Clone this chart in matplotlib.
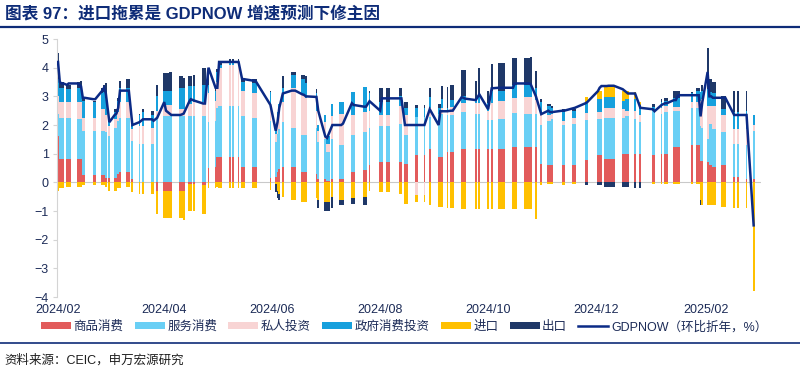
import matplotlib
matplotlib.use("Agg")
import matplotlib.pyplot as plt
import matplotlib.dates as mdates
from matplotlib.lines import Line2D
from matplotlib.patches import Patch
import numpy as np
import pandas as pd

plt.rcParams["font.family"] = ["Liberation Sans", "Noto Sans CJK SC", "DejaVu Sans"]

# ---------------------------------------------------------------------------
# Data: GDPNow contributions (pp) by update date
# ---------------------------------------------------------------------------
dates = [
    # 2024-02
    "2024-02-01", "2024-02-02", "2024-02-03", "2024-02-04", "2024-02-06", "2024-02-07",
    "2024-02-08", "2024-02-12", "2024-02-13", "2024-02-14", "2024-02-15", "2024-02-16",
    "2024-02-21", "2024-02-22", "2024-02-26", "2024-02-27", "2024-02-28",
    # 2024-03
    "2024-03-01", "2024-03-04", "2024-03-05", "2024-03-06", "2024-03-07", "2024-03-11",
    "2024-03-12", "2024-03-14", "2024-03-18", "2024-03-20", "2024-03-25", "2024-03-26",
    "2024-03-28",
    # 2024-04
    "2024-04-01", "2024-04-02", "2024-04-03", "2024-04-04", "2024-04-05", "2024-04-10",
    "2024-04-11", "2024-04-12", "2024-04-15", "2024-04-16", "2024-04-18", "2024-04-23",
    "2024-04-24", "2024-04-26", "2024-04-30",
    # 2024-05
    "2024-05-01", "2024-05-02", "2024-05-03", "2024-05-08", "2024-05-10", "2024-05-13",
    "2024-05-15", "2024-05-16", "2024-05-21", "2024-05-22", "2024-05-23", "2024-05-31",
    # 2024-06
    "2024-06-03", "2024-06-04", "2024-06-05", "2024-06-07", "2024-06-12", "2024-06-13",
    "2024-06-14", "2024-06-18", "2024-06-19", "2024-06-20", "2024-06-26", "2024-06-27",
    # 2024-07
    "2024-07-01", "2024-07-02", "2024-07-03", "2024-07-05", "2024-07-09", "2024-07-10",
    "2024-07-11", "2024-07-16", "2024-07-17", "2024-07-23", "2024-07-24", "2024-07-26",
    # 2024-08
    "2024-08-01", "2024-08-02", "2024-08-05", "2024-08-06", "2024-08-12", "2024-08-13",
    "2024-08-15", "2024-08-16", "2024-08-21", "2024-08-22", "2024-08-26", "2024-08-29",
    # 2024-09
    "2024-09-03", "2024-09-04", "2024-09-05", "2024-09-08", "2024-09-10", "2024-09-11",
    "2024-09-16", "2024-09-17", "2024-09-18", "2024-09-24", "2024-09-26",
    # 2024-10
    "2024-10-01", "2024-10-03", "2024-10-07", "2024-10-08", "2024-10-09", "2024-10-10",
    "2024-10-15", "2024-10-16", "2024-10-17", "2024-10-22", "2024-10-23", "2024-10-24",
    "2024-10-25", "2024-10-28", "2024-10-31",
    # 2024-11
    "2024-11-04", "2024-11-05", "2024-11-06", "2024-11-12", "2024-11-13", "2024-11-18",
    "2024-11-19", "2024-11-25", "2024-11-26",
    # 2024-12
    "2024-12-02", "2024-12-03", "2024-12-04", "2024-12-06", "2024-12-07", "2024-12-08",
    "2024-12-09", "2024-12-10", "2024-12-11", "2024-12-16", "2024-12-17", "2024-12-18",
    "2024-12-19", "2024-12-23", "2024-12-26",
    # 2025-01
    "2025-01-02", "2025-01-03", "2025-01-07", "2025-01-09", "2025-01-10", "2025-01-14",
    "2025-01-15", "2025-01-16", "2025-01-17", "2025-01-24", "2025-01-27", "2025-01-28",
    "2025-01-29", "2025-01-30",
    # 2025-02
    "2025-02-02", "2025-02-03", "2025-02-04", "2025-02-05", "2025-02-06", "2025-02-10",
    "2025-02-11", "2025-02-12", "2025-02-17", "2025-02-19", "2025-02-24", "2025-02-28",
]

goods = [
    1.60, 0.80, 0.80, 0.80, 0.80, 0.80, 0.80, 0.80, 0.80, 0.80, 0.25, 0.25, 0.25, 0.25, 0.25, 0.25, 0.15,
    0.15, 0.15, 0.15, 0.30, 0.35, 0.35, 0.35, 0.10, 0.00, 0.00, 0.00, 0.00, -0.30,
    -0.30, -0.30, -0.30, -0.30, -0.30, -0.30, -0.30, -0.30, -0.05, -0.05, -0.05, -0.10, -0.10, 0.50, 0.55,
    0.90, 0.90, 0.90, 0.90, 0.90, 0.90, 0.55, 0.55, 0.55, 0.55, 0.55, 0.15,
    0.20, 0.35, 0.45, 0.55, 0.55, 0.55, 0.55, 0.35, 0.35, 0.35, 0.30, 0.10,
    0.10, 0.05, 0.05, 0.10, 0.10, 0.10, 0.10, 0.35, 0.35, 0.42, 0.42, 0.60,
    0.70, 0.70, 0.70, 0.70, 0.70, 0.70, 0.65, 0.65, 0.94, 0.94, 0.94, 1.18,
    0.90, 0.90, 0.90, 1.06, 1.06, 1.06, 1.18, 1.18, 1.18, 1.18, 1.18,
    1.18, 1.18, 1.18, 1.18, 1.18, 1.18, 1.23, 1.23, 1.23, 1.23, 1.23, 1.23, 1.23, 1.23, 0.65,
    0.60, 0.60, 0.60, 0.60, 0.60, 0.60, 0.60, 0.77, 0.77,
    0.94, 0.94, 0.94, 0.83, 0.83, 0.83, 0.83, 0.83, 0.83, 1.00, 1.00, 1.00, 1.00, 1.00, 1.00,
    0.94, 0.94, 1.00, 1.00, 1.00, 1.23, 1.23, 1.23, 1.23, 1.30, 1.30, 1.30, 0.75, 0.75,
    0.70, 0.60, 0.60, 0.55, 0.55, 0.60, 0.60, 0.60, 0.20, 0.20, 0.10, 0.10,
]

services = [
    0.80, 1.45, 1.45, 1.45, 1.45, 1.45, 1.45, 1.40, 1.40, 1.40, 1.55, 1.55, 1.55, 1.55, 1.55, 1.55, 1.60,
    1.45, 1.75, 1.75, 1.85, 1.90, 1.90, 1.90, 1.35, 1.35, 1.35, 1.35, 1.35, 2.20,
    2.30, 2.30, 2.30, 2.30, 2.30, 2.30, 2.30, 2.30, 2.30, 2.30, 2.30, 2.30, 2.30, 1.60, 1.60,
    1.70, 1.75, 1.75, 1.75, 1.75, 1.75, 1.75, 1.75, 1.70, 1.70, 1.70, 2.00,
    1.20, 1.35, 1.40, 1.55, 1.35, 1.35, 1.35, 1.30, 1.30, 1.30, 1.60, 1.30,
    1.40, 1.00, 1.00, 1.40, 1.20, 1.20, 1.20, 1.30, 1.30, 1.35, 1.35, 1.30,
    1.25, 1.25, 1.25, 1.25, 1.35, 1.35, 1.00, 1.00, 1.34, 1.34, 1.34, 1.10,
    1.50, 1.50, 1.50, 1.30, 1.28, 1.28, 1.28, 1.28, 1.28, 1.20, 1.20,
    1.00, 1.00, 1.02, 1.02, 1.02, 1.02, 1.20, 1.20, 1.20, 1.15, 1.15, 1.15, 1.15, 1.15, 1.35,
    1.55, 1.55, 1.60, 1.40, 1.40, 1.45, 1.45, 1.40, 1.40,
    1.26, 1.26, 1.26, 1.40, 1.40, 1.40, 1.40, 1.40, 1.40, 1.25, 1.25, 1.30, 1.30, 1.20, 1.10,
    1.55, 1.55, 1.40, 1.45, 1.45, 1.25, 1.25, 1.25, 1.25, 1.30, 1.30, 1.30, 1.20, 1.15,
    0.80, 1.45, 1.45, 1.30, 1.30, 1.15, 1.15, 1.15, 1.15, 1.15, 1.20, 1.70,
]

private_inv = [
    0.60, 0.55, 0.55, 0.55, 0.55, 0.55, 0.55, 0.60, 0.60, 0.60, 0.45, 0.45, 0.45, 0.45, 0.75, 0.75, 0.60,
    0.35, 0.30, 0.30, 0.30, 0.55, 0.55, 0.55, 0.40, 0.60, 0.60, 0.55, 0.55, 0.30,
    0.40, 0.40, 0.40, 0.40, 0.40, 0.25, 0.25, 0.25, 0.45, 0.45, 0.50, 0.50, 0.50, 1.00, 0.70,
    0.90, 1.35, 1.35, 1.45, 1.45, 1.45, 0.90, 0.90, 0.85, 0.85, 0.85, 0.60,
    0.30, 0.45, 0.60, 0.70, 1.40, 1.40, 1.40, 1.40, 1.40, 1.30, 0.60, 0.40,
    0.60, 0.30, 0.30, 0.80, 1.10, 1.10, 1.10, 0.70, 0.70, 0.70, 0.70, 0.60,
    0.40, 0.40, 0.40, 0.40, 0.60, 0.60, 0.70, 0.70, -0.45, -0.45, -0.45, 0.30,
    0.00, 0.00, 0.20, 0.15, 0.30, 0.30, 0.30, 0.30, 0.30, 0.40, 0.40,
    0.30, 0.60, 0.65, 0.65, 0.65, 0.65, 0.50, 0.50, 0.50, 0.60, 0.60, 0.60, 0.60, 0.50, 0.40,
    0.20, 0.20, 0.20, 0.15, 0.15, 0.20, 0.20, 0.25, 0.25,
    0.25, 0.25, 0.25, 0.35, 0.35, 0.35, 0.35, 0.35, 0.35, 0.30, 0.30, 0.20, 0.20, 0.30, 0.25,
    0.00, 0.00, 0.20, 0.20, 0.20, 0.15, 0.15, 0.15, 0.15, 0.20, 0.20, 0.20, 0.90, 1.00,
    1.15, 0.60, 0.60, 0.80, 0.80, 0.60, 0.60, 0.60, 0.50, 0.50, 0.55, 0.20,
]

government = [
    0.60, 0.50, 0.50, 0.50, 0.45, 0.45, 0.45, 0.50, 0.50, 0.55, 0.60, 0.60, 0.55, 0.55, 0.55, 0.60, 0.60,
    0.25, 0.25, 0.25, 0.40, 0.50, 0.50, 0.50, 0.15, 0.40, 0.50, 0.45, 0.45, 0.50,
    0.50, 0.50, 0.50, 0.50, 0.50, 0.75, 0.75, 0.75, 0.60, 0.60, 0.55, 0.60, 0.60, 0.30, 0.35,
    0.35, 0.10, 0.10, 0.05, 0.05, 0.05, 0.30, 0.30, 0.35, 0.35, 0.35, 0.40,
    0.30, 0.30, 0.30, 0.50, 0.45, 0.45, 0.45, 0.55, 0.55, 0.50, 0.60, 0.20,
    0.25, 0.25, 0.25, 0.45, 0.40, 0.40, 0.40, 0.80, 0.80, 0.85, 0.85, 0.60,
    0.45, 0.45, 0.45, 0.45, 0.35, 0.35, 0.25, 0.25, 0.32, 0.32, 0.32, 0.40,
    0.20, 0.20, 0.30, 0.10, 0.25, 0.25, 0.25, 0.25, 0.25, 0.10, 0.30,
    0.30, 0.40, 0.35, 0.35, 0.35, 0.35, 0.45, 0.45, 0.45, 0.40, 0.40, 0.40, 0.40, 0.40, 0.40,
    0.30, 0.30, 0.20, 0.30, 0.30, 0.25, 0.25, 0.40, 0.40,
    0.45, 0.45, 0.45, 0.40, 0.40, 0.40, 0.40, 0.40, 0.40, 0.30, 0.30, 0.40, 0.40, 0.40, 0.35,
    0.15, 0.15, 0.20, 0.20, 0.20, 0.30, 0.30, 0.30, 0.30, 0.30, 0.40, 0.40, 0.30, 0.30,
    0.60, 0.50, 0.50, 0.45, 0.45, 0.20, 0.20, 0.20, 0.60, 0.60, 0.65, 0.35,
]

imports = [
    -0.30, -0.20, -0.20, -0.20, -0.15, -0.15, -0.15, -0.15, -0.15, -0.15, -0.10, -0.10, -0.10, -0.10, -0.10, -0.10, -0.15,
    -0.30, -0.30, -0.30, -0.20, -0.20, -0.15, -0.15, -0.35, -0.40, -0.40, -0.40, -0.40, -0.80,
    -0.95, -0.95, -0.95, -0.95, -0.95, -0.95, -0.95, -1.00, -0.95, -0.95, -0.95, -1.00, -1.00, -0.20, -0.20,
    -0.15, -0.20, -0.20, -0.20, -0.20, -0.20, -0.20, -0.20, -0.20, -0.20, -0.20, -0.25,
    -0.05, -0.30, -0.40, -0.50, -0.60, -0.60, -0.60, -0.70, -0.70, -0.70, -0.55, -0.60,
    -0.70, -0.70, -0.70, -0.50, -0.60, -0.60, -0.60, -0.55, -0.55, -0.50, -0.50, -0.30,
    -0.35, -0.35, -0.35, -0.35, -0.40, -0.40, -0.75, -0.75, -0.25, -0.25, -0.25, -0.80,
    -0.86, -0.86, -0.86, -0.90, -0.90, -0.90, -0.92, -0.92, -0.92, -0.92, -0.92,
    -0.92, -0.92, -0.92, -0.92, -0.92, -0.92, -0.92, -0.92, -0.92, -0.92, -0.92, -0.92, -0.92, -1.27, -0.10,
    -0.05, -0.05, -0.05, -0.10, -0.10, -0.05, -0.05, 0.15, 0.15,
    0.30, 0.30, 0.30, 0.40, 0.40, 0.40, 0.40, 0.40, 0.40, 0.35, 0.35, 0.30, 0.30, 0.25, 0.10,
    -0.05, -0.05, -0.05, -0.05, -0.05, -0.05, -0.05, -0.05, -0.05, -0.05, -0.05, -0.05, -0.60, -0.80,
    -0.80, -0.80, -0.80, -0.80, -0.80, -0.87, -0.87, -0.87, -0.90, -0.90, -0.90, -3.80,
]

exports = [
    0.90, 0.20, 0.20, 0.20, 0.15, 0.15, 0.15, 0.20, 0.20, 0.20, 0.10, 0.10, 0.05, 0.05, 0.20, 0.25, 0.50,
    0.00, 0.10, 0.10, 0.10, 0.25, 0.30, 0.30, 0.00, 0.05, 0.10, 0.15, 0.15, 0.40,
    0.60, 0.60, 0.60, 0.65, 0.65, 0.40, 0.40, 0.35, 0.35, 0.35, 0.40, 0.60, 0.60, 0.60, 0.15,
    0.10, 0.10, 0.10, 0.15, 0.15, 0.15, 0.10, 0.10, 0.15, 0.15, 0.15, 0.05,
    -0.30, -0.25, -0.20, 0.40, 0.10, 0.10, 0.10, 0.15, 0.15, 0.25, 0.15, -0.30,
    -0.30, -0.30, -0.30, -0.40, -0.20, -0.20, -0.20, -0.20, -0.20, -0.30, -0.30, 0.10,
    0.50, 0.50, 0.50, 0.50, 0.30, 0.30, 0.20, 0.20, 0.10, 0.10, 0.10, 0.30,
    0.15, 0.15, 0.45, 0.70, 0.50, 0.50, 0.90, 0.90, 0.90, 0.65, 0.90,
    0.40, 0.95, 0.95, 0.95, 0.95, 0.95, 0.95, 0.95, 0.95, 0.95, 0.95, 0.95, 1.00, 0.60, 0.10,
    0.10, 0.10, 0.05, 0.10, 0.10, 0.05, 0.05, -0.10, -0.10,
    -0.10, -0.10, -0.10, -0.15, -0.15, -0.15, -0.15, -0.15, -0.15, -0.15, -0.15, -0.15, -0.15, -0.20, -0.20,
    0.10, 0.10, 0.10, 0.10, 0.10, 0.25, 0.25, 0.25, 0.25, 0.05, 0.10, 0.10, -0.20, 0.20,
    1.45, 0.45, 0.45, 0.40, 0.40, 0.45, 0.45, 0.45, 0.75, 0.75, 0.70, 0.00,
]

gdpnow = [
    4.20, 3.50, 3.45, 3.45, 3.40, 3.45, 3.45, 3.45, 3.40, 3.35, 2.95, 2.95, 2.90, 2.90, 3.20, 3.30, 3.10,
    2.10, 2.35, 2.40, 2.60, 3.20, 3.20, 3.20, 2.00, 2.10, 2.20, 2.20, 2.15, 2.25,
    2.80, 2.50, 2.45, 2.40, 2.35, 2.35, 2.37, 2.40, 2.80, 2.90, 2.85, 2.75, 2.75, 4.00, 3.30,
    3.30, 4.20, 4.20, 4.20, 4.20, 4.20, 3.60, 3.60, 3.55, 3.55, 3.50, 2.70,
    1.80, 2.10, 2.60, 3.10, 3.20, 3.20, 3.20, 3.07, 3.05, 3.00, 2.98, 2.50,
    1.60, 1.55, 1.70, 2.00, 2.00, 2.00, 2.05, 2.76, 2.70, 2.64, 2.64, 2.83,
    2.50, 2.93, 2.93, 2.93, 2.93, 2.93, 2.00, 2.00, 2.00, 2.00, 2.00, 2.55,
    2.00, 2.48, 2.48, 2.48, 2.50, 2.50, 2.97, 2.95, 2.92, 2.87, 3.07,
    2.55, 3.28, 3.30, 3.30, 3.30, 3.30, 3.30, 3.45, 3.45, 3.45, 3.45, 3.45, 3.43, 3.00, 2.38,
    2.50, 2.45, 2.45, 2.50, 2.50, 2.58, 2.60, 2.76, 2.80,
    3.18, 3.30, 3.36, 3.36, 3.36, 3.37, 3.37, 3.37, 3.37, 3.25, 3.20, 3.15, 3.10, 3.10, 2.60,
    2.55, 2.48, 2.70, 2.76, 2.76, 2.87, 2.87, 3.00, 3.04, 3.04, 3.04, 3.04, 2.30, 2.80,
    3.85, 3.00, 3.00, 2.95, 2.95, 2.95, 2.95, 2.95, 2.35, 2.35, 2.35, -1.50,
]

series_names = ["商品消费", "服务消费", "私人投资", "政府消费投资", "进口", "出口"]
series_colors = ["#E25B5B", "#69CFF5", "#F8D4D4", "#16A0DD", "#FFC000", "#1F3868"]
line_name = "GDPNOW（环比折年，%）"

n = len(dates)
for arr in (goods, services, private_inv, government, imports, exports, gdpnow):
    assert len(arr) == n, len(arr)

x = pd.to_datetime(dates)
xn = mdates.date2num(x)
components = [goods, services, private_inv, government, imports, exports]

# ---------------------------------------------------------------------------
# Figure
# ---------------------------------------------------------------------------
NAVY = "#0E2C78"
TXT = "#1C2B57"

fig = plt.figure(figsize=(8.0, 3.72), dpi=100)
ax = fig.add_axes([0.0713, 0.2016, 0.8796, 0.6935])

pos_base = np.zeros(n)
neg_base = np.zeros(n)
for vals, col in zip(components, series_colors):
    v = np.asarray(vals, dtype=float)
    bottom = np.where(v >= 0, pos_base, neg_base)
    ax.bar(xn, v, width=1.0, bottom=bottom, color=col, linewidth=0, zorder=2)
    pos_base = pos_base + np.clip(v, 0, None)
    neg_base = neg_base + np.clip(v, None, 0)

ax.plot(xn, gdpnow, color="#0B2A86", linewidth=1.8, zorder=4, solid_joinstyle="miter")
ax.axhline(0, color="#C9C9C9", linewidth=0.8, zorder=1)

x0 = mdates.date2num(pd.Timestamp("2024-02-01"))
ax.set_xlim(x0 - 0.56, x0 + 397)
ax.set_ylim(-4, 5)

ticks = pd.date_range("2024-02-01", "2025-02-01", freq="2MS")
ax.set_xticks(mdates.date2num(ticks))
ax.set_xticklabels([t.strftime("%Y/%m") for t in ticks])
ax.set_yticks(range(-4, 6))

for s in ["top", "right", "bottom"]:
    ax.spines[s].set_visible(False)
ax.spines["left"].set_color("#D4D4D4")
ax.spines["left"].set_linewidth(0.8)
ax.tick_params(axis="x", length=0, pad=5, labelsize=9, labelcolor=TXT)
ax.tick_params(axis="y", length=3, width=0.8, color="#D4D4D4", pad=3,
               labelsize=9, labelcolor=TXT)

# Legend
handles = [Patch(facecolor=c, edgecolor="none") for c in series_colors]
handles.append(Line2D([0], [0], color="#0B2A86", linewidth=1.8))
fig.legend(handles, series_names + [line_name], loc="center",
           bbox_to_anchor=(0.505, 0.121), ncol=7, frameon=False, fontsize=9,
           handlelength=2.4, handleheight=0.5, handletextpad=0.2,
           columnspacing=0.9, labelcolor=TXT)

# Header / footer
fig.text(0.006, 1 - 14 / 372, "图表 97：进口拖累是 GDPNOW 增速预测下修主因",
         fontsize=12, fontweight="bold", color=NAVY, va="center", ha="left")
fig.add_artist(Line2D([0, 1], [1 - 27 / 372] * 2, color=NAVY, linewidth=1.6))
fig.add_artist(Line2D([0, 1], [1 - 343 / 372] * 2, color=NAVY, linewidth=1.2))
fig.text(0.006, 1 - 360 / 372, "资料来源：CEIC，申万宏源研究",
         fontsize=9, color="#1E1E1E", va="center", ha="left")

fig.savefig("out.png", dpi=100)
